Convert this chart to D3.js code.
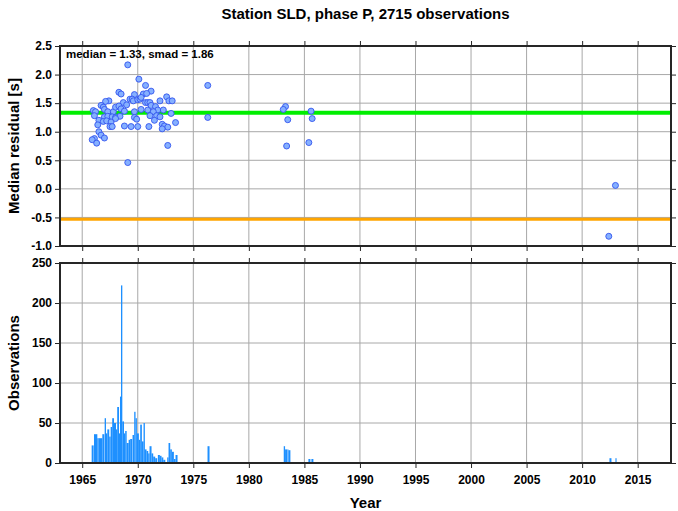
<!DOCTYPE html>
<html><head><meta charset="utf-8">
<script src="https://cdn.jsdelivr.net/npm/d3@7"></script>
<style>html,body{margin:0;padding:0;background:#fff}svg{display:block}text{font-family:"Liberation Sans",Arial,Helvetica,sans-serif;font-weight:bold;fill:#000}</style>
</head><body><svg id="c" width="678" height="511"></svg>
<script>
const titleText = "Station SLD, phase P, 2715 observations";
const statsText = "median = 1.33, smad = 1.86";
const medianVal = 1.33;
const lowerVal = -0.53;
const xTicks = [1965,1970,1975,1980,1985,1990,1995,2000,2005,2010,2015];
const topTicks = [-1.0,-0.5,0.0,0.5,1.0,1.5,2.0,2.5];
const botTicks = [0,50,100,150,200,250];

const resYears = [1969.1,1970.1,1970.7,1971.2,1968.3,1968.5,1969.7,1970.5,1970.8,1972.6,1976.3,1976.3,
 1967.4,1967.1,1966.7,1968.7,1969.3,1969.5,1969.0,1969.6,1970.0,1970.2,1970.3,1970.7,1970.9,1971.1,1972.0,1972.8,1973.1,
 1966.0,1966.2,1966.9,1967.0,1967.3,1967.8,1968.0,1968.3,1968.5,1968.8,1969.7,1970.3,1970.9,1971.2,1971.6,1971.8,1972.3,1971.4,
 1966.1,1966.5,1967.0,1967.3,1967.7,1968.0,1968.4,1969.7,1971.1,1971.7,1972.0,1973.0,
 1966.9,1967.2,1967.6,1968.0,1969.9,1966.4,1967.5,1967.7,1968.8,1969.4,1970.0,1971.0,1971.5,1972.2,1972.4,1972.7,1972.2,1973.4,
 1966.5,1966.7,1967.0,1966.1,1965.9,1966.3,1972.7,1969.1,
 1983.3,1983.1,1983.5,1985.6,1985.7,1983.4,1985.4,2013.0,2012.4];
const resValues = [2.17,1.92,1.81,1.71,1.69,1.66,1.65,1.66,1.67,1.61,1.81,1.25,
 1.54,1.53,1.46,1.51,1.57,1.57,1.47,1.54,1.56,1.57,1.60,1.51,1.51,1.51,1.54,1.54,1.54,
 1.37,1.35,1.43,1.39,1.35,1.35,1.43,1.45,1.40,1.36,1.35,1.39,1.38,1.46,1.44,1.38,1.38,1.35,
 1.28,1.20,1.26,1.27,1.26,1.25,1.27,1.25,1.28,1.28,1.26,1.32,
 1.18,1.19,1.17,1.23,1.22,1.12,1.09,1.09,1.10,1.09,1.09,1.09,1.20,1.13,1.10,1.08,1.05,1.16,
 1.00,0.94,0.89,0.88,0.86,0.80,0.76,0.46,
 1.44,1.39,1.21,1.36,1.23,0.75,0.81,0.06,-0.83];

const obsYears = [1965.85,1966.06,1966.24,1966.36,1966.45,1966.60,1966.69,1966.81,1967.02,1967.14,1967.26,1967.43,1967.56,1967.70,1967.86,
 1968.04,1968.15,1968.31,1968.40,1968.49,1968.61,1968.76,1968.87,1969.00,1969.18,1969.32,1969.53,1969.68,1969.80,1969.92,
 1970.10,1970.22,1970.37,1970.52,1970.64,1970.79,1970.94,1971.06,1971.24,1971.39,1971.57,1971.81,1971.99,1972.14,1972.30,
 1972.65,1972.77,1972.92,1973.07,1973.25,1973.40,
 1976.28,1983.14,1983.26,1983.47,1983.56,1985.36,1985.63,2012.46,2013.00];
const obsCounts = [22,36,36,31,31,31,31,36,56,37,42,33,45,56,50,
 42,70,37,83,222,52,37,40,25,29,30,35,64,56,37,
 29,48,27,50,17,15,12,21,12,8,6,10,9,7,4,
 7,25,17,14,5,10,
 21,21,17,17,16,5,5,6,6];

const svg = d3.select("#c");
const L = 60, R = 671;
const x = d3.scaleLinear().domain([1963,2018]).range([L,R]);
const yT = d3.scaleLinear().domain([-1,2.5]).range([246,46]);
const yB = d3.scaleLinear().domain([0,250]).range([463,263]);
const gridCol = "#a8a8a8", frameCol = "#262626";

function panel(y, yt, showXLabels){
  const g = svg.append("g");
  const [y0,y1] = y.range(); // bottom, top
  // grid
  g.selectAll(".vg").data(xTicks).join("line").attr("x1",d=>x(d)).attr("x2",d=>x(d)).attr("y1",y1).attr("y2",y0)
   .attr("stroke",gridCol).attr("stroke-width",1);
  g.selectAll(".hg").data(yt).join("line").attr("x1",L).attr("x2",R).attr("y1",d=>y(d)).attr("y2",d=>y(d))
   .attr("stroke",gridCol).attr("stroke-width",1);
  return g;
}
function frame(y, yt, showXLabels, fmt){
  const [y0,y1] = y.range();
  const g = svg.append("g");
  const left = g.append("g").attr("transform",`translate(${L},0)`).call(d3.axisLeft(y).tickValues(yt).tickSize(5).tickPadding(3).tickFormat(fmt));
  const right = g.append("g").attr("transform",`translate(${R},0)`).call(d3.axisRight(y).tickValues(yt).tickSize(5).tickFormat(""));
  const bot = g.append("g").attr("transform",`translate(0,${y0})`).call(d3.axisBottom(x).tickValues(xTicks).tickSize(5).tickPadding(7).tickFormat(showXLabels?d3.format("d"):""));
  const top = g.append("g").attr("transform",`translate(0,${y1})`).call(d3.axisTop(x).tickValues(xTicks).tickSize(5).tickFormat(""));
  g.selectAll(".domain").remove();
  g.selectAll(".tick line").attr("stroke",frameCol).attr("stroke-width",1);
  g.selectAll("text").style("font-size","12px").style("font-family","'Liberation Sans',Arial,sans-serif").style("font-weight","bold").attr("fill","#000");
  g.append("rect").attr("x",L).attr("y",y1).attr("width",R-L).attr("height",y0-y1)
    .attr("fill","none").attr("stroke",frameCol).attr("stroke-width",2);
}

// top panel
panel(yT, topTicks);
const gT = svg.append("g");
gT.append("line").attr("x1",L).attr("x2",R).attr("y1",yT(medianVal)).attr("y2",yT(medianVal)).attr("stroke","#00ee00").attr("stroke-width",4);
gT.append("line").attr("x1",L).attr("x2",R).attr("y1",yT(lowerVal)).attr("y2",yT(lowerVal)).attr("stroke","#ffa500").attr("stroke-width",3);
gT.selectAll("circle").data(resYears.map((d,i)=>[d,resValues[i]])).join("circle")
  .attr("cx",d=>x(d[0])).attr("cy",d=>yT(d[1])).attr("r",3)
  .attr("fill","#85b0ff").attr("stroke","#3355ee").attr("stroke-width",0.9);
frame(yT, topTicks, false, d=>d.toFixed(1));
svg.append("text").attr("x",66).attr("y",58).style("font-size","11.5px").text(statsText);

// bottom panel
panel(yB, botTicks);
const bars = obsYears.map((d,i)=>{
  const nxt = i<obsYears.length-1 ? obsYears[i+1]-d : 0.1;
  return {t:d, c:obsCounts[i], w:Math.min(nxt,0.18)};
});
svg.append("g").selectAll("rect").data(bars).join("rect")
  .attr("x",d=>x(d.t)).attr("width",d=>Math.max(1,x(d.t+d.w)-x(d.t)))
  .attr("y",d=>yB(d.c)).attr("height",d=>yB(0)-yB(d.c)).attr("fill","#1e90ff");
frame(yB, botTicks, true, d=>String(d));

// titles
svg.append("text").attr("x",(L+R)/2).attr("y",19).attr("text-anchor","middle").style("font-size","15px").text(titleText);
svg.append("text").attr("x",(L+R)/2).attr("y",508).attr("text-anchor","middle").style("font-size","15px").text("Year");
svg.append("text").attr("transform",`translate(19,${(46+246)/2}) rotate(-90)`).attr("text-anchor","middle").style("font-size","15px").text("Median residual [s]");
svg.append("text").attr("transform",`translate(19,${(263+463)/2}) rotate(-90)`).attr("text-anchor","middle").style("font-size","15px").text("Observations");
</script></body></html>
